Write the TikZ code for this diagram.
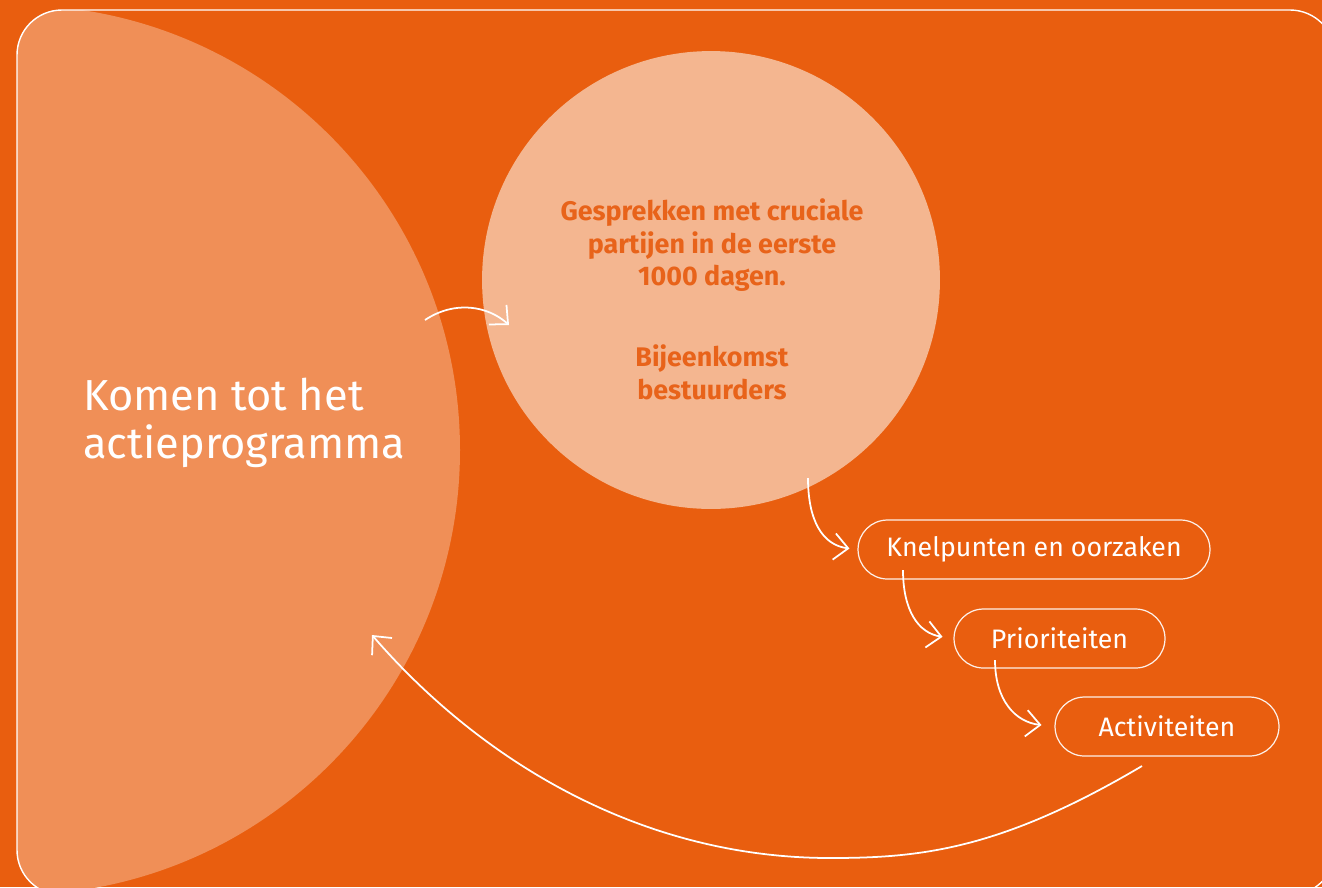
\documentclass[tikz,border=0pt]{standalone}
\usepackage{fontspec}
\setmainfont{Fira Sans}
\usetikzlibrary{arrows.meta,calc}

\definecolor{bgorange}{HTML}{E95E0F}
\definecolor{leftpeach}{HTML}{F08F57}
\definecolor{circpeach}{HTML}{F4B690}
\definecolor{txtorange}{HTML}{E8631A}

\tikzset{
  flow/.style={white, line width=1pt, -{Straight Barb[length=8pt,width=15pt]}},
  pill/.style={draw=white!90!bgorange, line width=0.7pt, rounded corners=0.59cm,
    minimum height=1.18cm, inner sep=0pt, text=white,
    font=\fontsize{15.2}{17}\selectfont},
}

\begin{document}
\begin{tikzpicture}[x=0.02cm, y=-0.02cm]
    \useasboundingbox (0,0) rectangle (1322,887);
    \fill[bgorange] (0,0) rectangle (1322,887);

    \begin{scope}
      \clip[rounded corners=0.9cm] (17,10) rectangle (1335,895);
      \fill[leftpeach] (15,450) circle (445);
    \end{scope}
    \draw[white, line width=0.8pt, rounded corners=0.9cm] (17,10) rectangle (1335,895);

    \node[anchor=west, align=left, inner sep=0pt, text=white,
      font=\fontsize{24.7}{27}\selectfont] (komen) at (83,423)
      {Komen tot het\\actieprogramma};

    \node[circle, fill=circpeach, minimum size=9.16cm] (circ) at (711,280) {};
    \node[align=center, inner sep=0pt, text=txtorange,
      font=\fontsize{15.3}{18.7}\selectfont\bfseries] (gesprek) at (712,299)
      {Gesprekken met cruciale\\partijen in de eerste\\1000 dagen.\\[0.95cm]
       Bijeenkomst\\bestuurders};

    \node[pill, minimum width=7.04cm] (knel) at (1034,549.5) {Knelpunten en oorzaken};
    \node[pill, minimum width=4.22cm] (prio) at (1059.5,638.5) {Prioriteiten};
    \node[pill, minimum width=4.48cm] (acti) at (1167,726.5) {Activiteiten};

    \coordinate (k1) at (425,320);
    \coordinate (k2) at (509,325);
    \coordinate (c1) at (808,478);
    \coordinate (n1) at (903,570);
    \coordinate (p1) at (995,660);
    \coordinate (a1) at (1142,766);
    \coordinate (bot) at (830,858);
    \coordinate (k3) at (372,635);

    \draw[flow] (k1) .. controls (455,300) and (488,306) .. (k2);
    \draw[flow, shorten >=0.16cm] (c1) .. controls (808,520) and (822,545) .. (knel.west);
    \draw[flow, shorten >=0.22cm] (n1) .. controls (903,610) and (918,633) .. (prio.west);
    \draw[flow, shorten >=0.26cm] (p1) .. controls (995,700) and (1015,722) .. (acti.west);
    \draw[flow] (a1) .. controls (1000,850) and (920,858) .. (bot)
      .. controls (640,858) and (480,760) .. (k3);
\end{tikzpicture}
\end{document}
